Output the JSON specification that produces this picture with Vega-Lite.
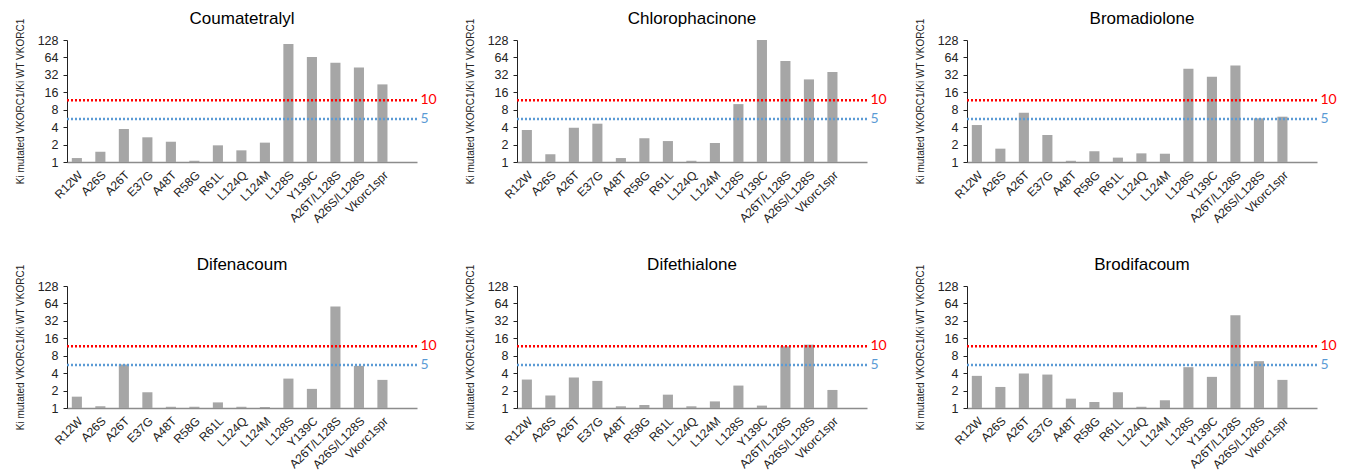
{
  "$schema": "https://vega.github.io/schema/vega-lite/v6.json",
  "padding": {"left": 15, "top": 10, "right": 5, "bottom": 2},
  "autosize": {"type": "pad"},
  "background": "white",
  "config": {
    "view": {"stroke": null},
    "font": "Liberation Sans",
    "axis": {"labelFont": "Liberation Sans", "titleFont": "Liberation Sans", "labelColor": "#222222", "titleColor": "#222222"}
  },
  "data": {
    "values": [
      {"drug": "Coumatetralyl", "mut": "R12W", "v": 1.17},
      {"drug": "Coumatetralyl", "mut": "A26S", "v": 1.51},
      {"drug": "Coumatetralyl", "mut": "A26T", "v": 3.71},
      {"drug": "Coumatetralyl", "mut": "E37G", "v": 2.67},
      {"drug": "Coumatetralyl", "mut": "A48T", "v": 2.24},
      {"drug": "Coumatetralyl", "mut": "R58G", "v": 1.05},
      {"drug": "Coumatetralyl", "mut": "R61L", "v": 1.94},
      {"drug": "Coumatetralyl", "mut": "L124Q", "v": 1.59},
      {"drug": "Coumatetralyl", "mut": "L124M", "v": 2.16},
      {"drug": "Coumatetralyl", "mut": "L128S", "v": 109},
      {"drug": "Coumatetralyl", "mut": "Y139C", "v": 65},
      {"drug": "Coumatetralyl", "mut": "A26T/L128S", "v": 52},
      {"drug": "Coumatetralyl", "mut": "A26S/L128S", "v": 43},
      {"drug": "Coumatetralyl", "mut": "Vkorc1spr", "v": 21.9},
      {"drug": "Chlorophacinone", "mut": "R12W", "v": 3.57},
      {"drug": "Chlorophacinone", "mut": "A26S", "v": 1.36},
      {"drug": "Chlorophacinone", "mut": "A26T", "v": 3.92},
      {"drug": "Chlorophacinone", "mut": "E37G", "v": 4.59},
      {"drug": "Chlorophacinone", "mut": "A48T", "v": 1.17},
      {"drug": "Chlorophacinone", "mut": "R58G", "v": 2.56},
      {"drug": "Chlorophacinone", "mut": "R61L", "v": 2.3},
      {"drug": "Chlorophacinone", "mut": "L124Q", "v": 1.05},
      {"drug": "Chlorophacinone", "mut": "L124M", "v": 2.13},
      {"drug": "Chlorophacinone", "mut": "L128S", "v": 10.0},
      {"drug": "Chlorophacinone", "mut": "Y139C", "v": 128},
      {"drug": "Chlorophacinone", "mut": "A26T/L128S", "v": 55.5},
      {"drug": "Chlorophacinone", "mut": "A26S/L128S", "v": 26.7},
      {"drug": "Chlorophacinone", "mut": "Vkorc1spr", "v": 35.8},
      {"drug": "Bromadiolone", "mut": "R12W", "v": 4.35},
      {"drug": "Bromadiolone", "mut": "A26S", "v": 1.7},
      {"drug": "Bromadiolone", "mut": "A26T", "v": 7.1},
      {"drug": "Bromadiolone", "mut": "E37G", "v": 2.93},
      {"drug": "Bromadiolone", "mut": "A48T", "v": 1.05},
      {"drug": "Bromadiolone", "mut": "R58G", "v": 1.53},
      {"drug": "Bromadiolone", "mut": "R61L", "v": 1.19},
      {"drug": "Bromadiolone", "mut": "L124Q", "v": 1.41},
      {"drug": "Bromadiolone", "mut": "L124M", "v": 1.39},
      {"drug": "Bromadiolone", "mut": "L128S", "v": 40.9},
      {"drug": "Bromadiolone", "mut": "Y139C", "v": 29.7},
      {"drug": "Bromadiolone", "mut": "A26T/L128S", "v": 46.6},
      {"drug": "Bromadiolone", "mut": "A26S/L128S", "v": 5.67},
      {"drug": "Bromadiolone", "mut": "Vkorc1spr", "v": 6.06},
      {"drug": "Difenacoum", "mut": "R12W", "v": 1.57},
      {"drug": "Difenacoum", "mut": "A26S", "v": 1.07},
      {"drug": "Difenacoum", "mut": "A26T", "v": 5.64},
      {"drug": "Difenacoum", "mut": "E37G", "v": 1.87},
      {"drug": "Difenacoum", "mut": "A48T", "v": 1.05},
      {"drug": "Difenacoum", "mut": "R58G", "v": 1.05},
      {"drug": "Difenacoum", "mut": "R61L", "v": 1.25},
      {"drug": "Difenacoum", "mut": "L124Q", "v": 1.05},
      {"drug": "Difenacoum", "mut": "L124M", "v": 1.04},
      {"drug": "Difenacoum", "mut": "L128S", "v": 3.22},
      {"drug": "Difenacoum", "mut": "Y139C", "v": 2.14},
      {"drug": "Difenacoum", "mut": "A26T/L128S", "v": 56.4},
      {"drug": "Difenacoum", "mut": "A26S/L128S", "v": 5.34},
      {"drug": "Difenacoum", "mut": "Vkorc1spr", "v": 3.06},
      {"drug": "Difethialone", "mut": "R12W", "v": 3.1},
      {"drug": "Difethialone", "mut": "A26S", "v": 1.64},
      {"drug": "Difethialone", "mut": "A26T", "v": 3.36},
      {"drug": "Difethialone", "mut": "E37G", "v": 2.94},
      {"drug": "Difethialone", "mut": "A48T", "v": 1.07},
      {"drug": "Difethialone", "mut": "R58G", "v": 1.13},
      {"drug": "Difethialone", "mut": "R61L", "v": 1.7},
      {"drug": "Difethialone", "mut": "L124Q", "v": 1.07},
      {"drug": "Difethialone", "mut": "L124M", "v": 1.3},
      {"drug": "Difethialone", "mut": "L128S", "v": 2.44},
      {"drug": "Difethialone", "mut": "Y139C", "v": 1.1},
      {"drug": "Difethialone", "mut": "A26T/L128S", "v": 11.6},
      {"drug": "Difethialone", "mut": "A26S/L128S", "v": 12.4},
      {"drug": "Difethialone", "mut": "Vkorc1spr", "v": 2.05},
      {"drug": "Brodifacoum", "mut": "R12W", "v": 3.59},
      {"drug": "Brodifacoum", "mut": "A26S", "v": 2.31},
      {"drug": "Brodifacoum", "mut": "A26T", "v": 3.94},
      {"drug": "Brodifacoum", "mut": "E37G", "v": 3.78},
      {"drug": "Brodifacoum", "mut": "A48T", "v": 1.45},
      {"drug": "Brodifacoum", "mut": "R58G", "v": 1.27},
      {"drug": "Brodifacoum", "mut": "R61L", "v": 1.87},
      {"drug": "Brodifacoum", "mut": "L124Q", "v": 1.05},
      {"drug": "Brodifacoum", "mut": "L124M", "v": 1.36},
      {"drug": "Brodifacoum", "mut": "L128S", "v": 5.07},
      {"drug": "Brodifacoum", "mut": "Y139C", "v": 3.45},
      {"drug": "Brodifacoum", "mut": "A26T/L128S", "v": 39.9},
      {"drug": "Brodifacoum", "mut": "A26S/L128S", "v": 6.44},
      {"drug": "Brodifacoum", "mut": "Vkorc1spr", "v": 3.06},
      {"drug": "Coumatetralyl", "t": "10", "v": 11.6},
      {"drug": "Coumatetralyl", "t": "5", "v": 5.55},
      {"drug": "Chlorophacinone", "t": "10", "v": 11.6},
      {"drug": "Chlorophacinone", "t": "5", "v": 5.55},
      {"drug": "Bromadiolone", "t": "10", "v": 11.6},
      {"drug": "Bromadiolone", "t": "5", "v": 5.55},
      {"drug": "Difenacoum", "t": "10", "v": 11.6},
      {"drug": "Difenacoum", "t": "5", "v": 5.55},
      {"drug": "Difethialone", "t": "10", "v": 11.6},
      {"drug": "Difethialone", "t": "5", "v": 5.55},
      {"drug": "Brodifacoum", "t": "10", "v": 11.6},
      {"drug": "Brodifacoum", "t": "5", "v": 5.55}
    ]
  },
  "facet": {
    "field": "drug",
    "type": "nominal",
    "sort": ["Coumatetralyl", "Chlorophacinone", "Bromadiolone", "Difenacoum", "Difethialone", "Brodifacoum"],
    "header": {"title": null, "labelFontSize": 17, "labelFont": "Liberation Sans", "labelColor": "#000000", "labelPadding": -10}
  },
  "columns": 3,
  "spacing": {"column": 28, "row": 31},
  "resolve": {"axis": {"x": "independent", "y": "independent"}},
  "spec": {
    "width": 350,
    "height": 122,
    "layer": [
      {
        "transform": [{"filter": "datum.t == null"}],
        "mark": {"type": "bar", "color": "#A6A6A6"},
        "encoding": {
          "x": {
            "field": "mut",
            "type": "nominal",
            "sort": null,
            "scale": {"domain": ["R12W", "A26S", "A26T", "E37G", "A48T", "R58G", "R61L", "L124Q", "L124M", "L128S", "Y139C", "A26T/L128S", "A26S/L128S", "Vkorc1spr"], "paddingInner": 0.57, "paddingOuter": 0.73, "align": 0.14},
            "axis": {"title": null, "labelAngle": -45, "labelFontSize": 12, "ticks": false, "labelPadding": 7, "domainColor": "#8C8C8C", "domainWidth": 1.5}
          },
          "y": {
            "field": "v",
            "type": "quantitative",
            "stack": null,
            "scale": {"type": "log", "base": 2, "domain": [1, 128], "nice": false},
            "axis": {"title": "Ki mutated VKORC1/Ki WT VKORC1", "titleFontSize": 10, "titleFontWeight": "normal", "titlePadding": 12, "values": [1, 2, 4, 8, 16, 32, 64, 128], "format": "d", "grid": false, "ticks": true, "tickSize": 4, "tickColor": "#222222", "domain": true, "domainColor": "#222222", "domainWidth": 1, "labelFontSize": 12.5, "labelPadding": 5}
          },
          "y2": {"datum": 1}
        }
      },
      {
        "transform": [{"filter": "datum.t != null"}],
        "mark": {"type": "rule", "strokeDash": [2, 2], "strokeWidth": 2.5},
        "encoding": {
          "y": {"field": "v", "type": "quantitative"},
          "color": {"field": "t", "type": "nominal", "scale": {"domain": ["10", "5"], "range": ["#FF0000", "#5B9BD5"]}, "legend": null}
        }
      },
      {
        "transform": [{"filter": "datum.t != null"}],
        "mark": {"type": "text", "align": "left", "baseline": "middle", "dx": 38, "fontSize": 14, "font": "Lato"},
        "encoding": {
          "x": {"datum": "Vkorc1spr", "type": "nominal"},
          "y": {"field": "v", "type": "quantitative"},
          "text": {"field": "t"},
          "color": {"field": "t", "type": "nominal", "legend": null}
        }
      }
    ]
  }
}
